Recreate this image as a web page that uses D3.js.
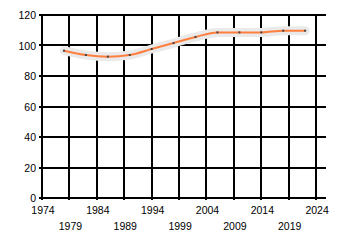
<!DOCTYPE html>
<html>
<head>
<meta charset="utf-8">
<script src="https://cdn.jsdelivr.net/npm/d3@7"></script>
<style>
  body { margin: 0; background: #fff; }
  svg { display: block; }
  text { font-family: "Liberation Sans", Arial, sans-serif; font-size: 10.5px; fill: #000; }
</style>
</head>
<body>
<div id="chart"></div>
<script>
    // values
    var years = [1978, 1982, 1986, 1990, 1994, 1998, 2002, 2006, 2010, 2014, 2018, 2022];
    var values = [96.6, 93.8, 92.7, 93.8, 97.7, 101.6, 105.6, 108.6, 108.6, 108.6, 109.7, 109.7];
    var xTicks = [1974, 1979, 1984, 1989, 1994, 1999, 2004, 2009, 2014, 2019, 2024];
    var yTicks = [0, 20, 40, 60, 80, 100, 120];

    var svgWidth = 340;
    var svgHeight = 245;
    var margin = { top: 15, bottom: 47, right: 14, left: 42 };

    var plot_width = svgWidth - margin.left - margin.right;
    var plot_height = svgHeight - margin.top - margin.bottom;

    var svg = d3.select("#chart")
        .append("svg")
        .attr("width", svgWidth)
        .attr("height", svgHeight);

    var chartGroup = svg.append("g")
        .attr("transform", `translate(${margin.left}, ${margin.top})`);

    var xScale = d3.scaleLinear()
        .domain([1974, 2024 + 1.8])
        .range([0, plot_width]);
    var yScale = d3.scaleLinear()
        .domain([0, 120])
        .range([plot_height, 0]);

    // grid
    chartGroup.append("g")
        .selectAll("line")
        .data(xTicks)
        .enter()
        .append("line")
        .attr("x1", d => Math.round(xScale(d)))
        .attr("x2", d => Math.round(xScale(d)))
        .attr("y1", 0)
        .attr("y2", plot_height + 2)
        .attr("stroke", "#000")
        .attr("stroke-width", 2);

    chartGroup.append("g")
        .selectAll("line")
        .data(yTicks)
        .enter()
        .append("line")
        .attr("x1", -3)
        .attr("x2", plot_width)
        .attr("y1", d => Math.round(yScale(d)))
        .attr("y2", d => Math.round(yScale(d)))
        .attr("stroke", "#000")
        .attr("stroke-width", 2);

    // y labels
    chartGroup.append("g")
        .selectAll("text")
        .data(yTicks)
        .enter()
        .append("text")
        .attr("x", -6)
        .attr("y", d => yScale(d) + 4)
        .attr("text-anchor", "end")
        .text(d => d);

    // x labels, staggered over two rows
    chartGroup.append("g")
        .selectAll("text")
        .data(xTicks)
        .enter()
        .append("text")
        .attr("x", d => xScale(d) + 1)
        .attr("y", (d, i) => plot_height + (i % 2 === 0 ? 16 : 32))
        .attr("text-anchor", "middle")
        .text(d => d);

    var line = d3.line()
        .x((d, i) => xScale(years[i]))
        .y(d => yScale(d))
        .curve(d3.curveMonotoneX);

    // soft shadow band
    chartGroup.append("path")
        .datum(values)
        .attr("d", line)
        .attr("fill", "none")
        .attr("stroke", "#eaeaea")
        .attr("stroke-width", 9)
        .attr("stroke-linecap", "round")
        .attr("stroke-linejoin", "round");

    chartGroup.append("path")
        .datum(values)
        .attr("d", line)
        .attr("fill", "none")
        .attr("stroke", "#ff7f3f")
        .attr("stroke-width", 2);

    chartGroup.selectAll("rect.pt")
        .data(values)
        .enter()
        .append("rect")
        .attr("class", "pt")
        .attr("x", (d, i) => xScale(years[i]) - 1)
        .attr("y", d => yScale(d) - 1)
        .attr("width", 2)
        .attr("height", 2)
        .attr("fill", "#4a4040");
</script>
</body>
</html>
